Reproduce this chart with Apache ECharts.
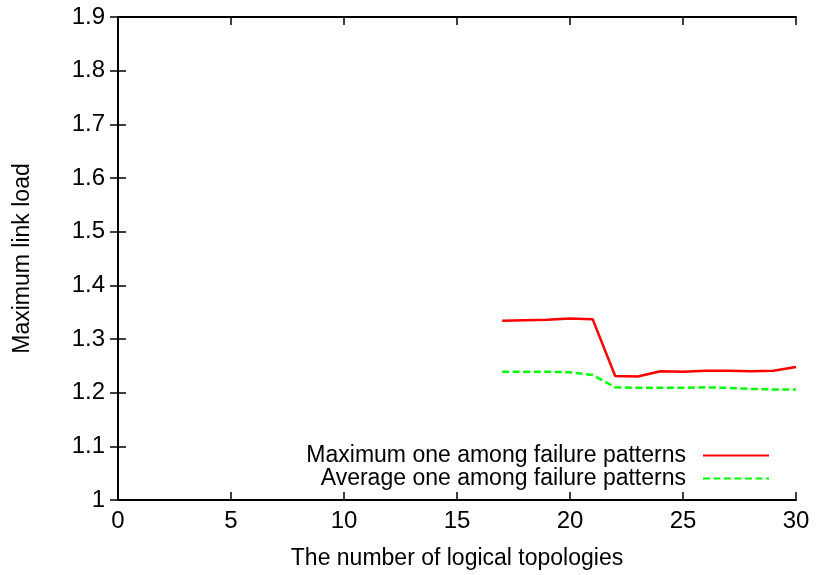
<!DOCTYPE html>
<html>
<head>
<meta charset="utf-8">
<script src="https://cdn.jsdelivr.net/npm/echarts@6/dist/echarts.min.js"></script>
<style>
  html, body { margin: 0; padding: 0; background: #fff; }
  #chart { width: 819px; height: 575px; }
</style>
</head>
<body>
<div id="chart"></div>
<script>
// Number of logical topologies (x values)
const topologies = [17, 18, 19, 20, 21, 22, 23, 24, 25, 26, 27, 28, 29, 30];
// Maximum link load: worst case over failure patterns
const maxLoad = [1.334, 1.335, 1.336, 1.338, 1.337, 1.231, 1.230, 1.240, 1.239, 1.241, 1.241, 1.240, 1.241, 1.248];
// Maximum link load: average over failure patterns
const avgLoad = [1.239, 1.239, 1.239, 1.238, 1.233, 1.210, 1.209, 1.209, 1.209, 1.210, 1.209, 1.207, 1.206, 1.206];

const seriesNames = ['Maximum one among failure patterns', 'Average one among failure patterns'];

const pairs = (ys) => topologies.map((x, i) => [x, ys[i]]);

const font = 'Liberation Sans, Arial, Helvetica, sans-serif';
const fs = 23;
const tickFs = 24;
const chart = echarts.init(document.getElementById('chart'), null, { renderer: 'canvas' });

const axisCommon = {
  axisLine: { show: true, lineStyle: { color: '#000', width: 2 } },
  axisTick: { show: true, inside: true, length: 8, lineStyle: { color: '#000', width: 1.5 } },
  splitLine: { show: false }
};

chart.setOption({
  animation: false,
  backgroundColor: '#fff',
  grid: { left: 118, right: 23, top: 17, bottom: 75, containLabel: false },
  legend: {
    orient: 'vertical',
    right: 44,
    top: 439,
    align: 'right',
    itemWidth: 66,
    itemHeight: 6,
    itemGap: 0,
    itemStyle: { opacity: 0 },
    textStyle: { fontFamily: font, fontSize: fs, color: '#000', lineHeight: 23, padding: [0, 12, 0, 0] },
    data: seriesNames
  },
  xAxis: [
    Object.assign({}, axisCommon, {
      type: 'value', min: 0, max: 30, interval: 5, position: 'bottom',
      name: 'The number of logical topologies', nameLocation: 'middle', nameGap: 47,
      nameTextStyle: { fontFamily: font, fontSize: fs, color: '#000' },
      axisLabel: { fontFamily: font, fontSize: tickFs, color: '#000', margin: 9 }
    }),
    Object.assign({}, axisCommon, {
      type: 'value', min: 0, max: 30, interval: 5, position: 'top',
      axisLabel: { show: false }
    })
  ],
  yAxis: [
    Object.assign({}, axisCommon, {
      type: 'value', min: 1, max: 1.9, interval: 0.1, position: 'left',
      name: 'Maximum link load', nameLocation: 'middle', nameGap: 84, nameRotate: 90,
      nameTextStyle: { fontFamily: font, fontSize: fs, color: '#000' },
      axisLabel: {
        fontFamily: font, fontSize: tickFs, color: '#000', margin: 13,
        formatter: (v) => (Math.abs(v - 1) < 1e-9 ? '1' : v.toFixed(1))
      }
    }),
    Object.assign({}, axisCommon, {
      type: 'value', min: 1, max: 1.9, interval: 0.1, position: 'right',
      axisLabel: { show: false }
    })
  ],
  series: [
    {
      name: seriesNames[0], type: 'line', data: pairs(maxLoad),
      symbol: 'none', color: '#ff0000',
      lineStyle: { color: '#ff0000', width: 2.5 }
    },
    {
      name: seriesNames[1], type: 'line', data: pairs(avgLoad),
      symbol: 'none', color: '#00ff00',
      lineStyle: { color: '#00ff00', width: 2.5, type: [7, 3.5] }
    }
  ]
});
</script>
</body>
</html>
